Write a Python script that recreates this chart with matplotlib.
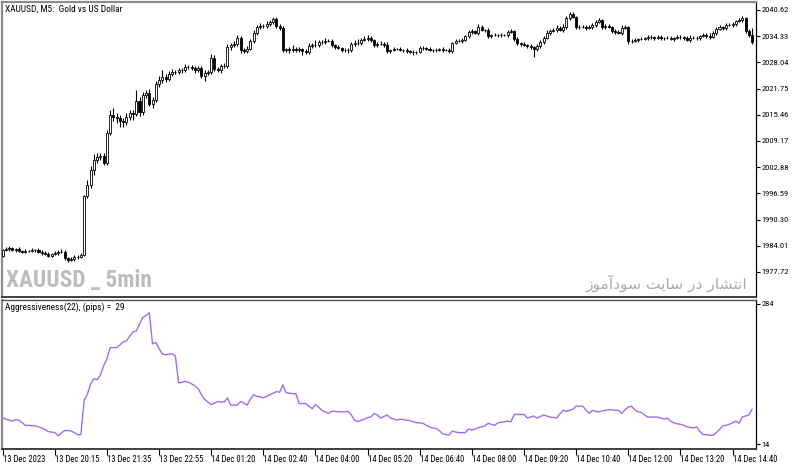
import os
import numpy as np
import matplotlib
matplotlib.use("Agg")
import matplotlib.pyplot as plt
from matplotlib import font_manager
from matplotlib.font_manager import FontProperties

# ---------------- data ----------------
first_open = 1981.6
closes = [
    1983.0, 1983.2, 1983.4, 1983.0, 1983.2, 1982.7, 1982.6, 1982.8, 1982.8, 1983.0,
    1983.0, 1982.6, 1982.3, 1982.0, 1981.6, 1982.0, 1982.3, 1982.5, 1982.6, 1981.1,
    1980.6, 1980.8, 1981.3, 1981.4, 1981.8, 1996.0, 1998.6, 2002.2, 2004.6, 2005.3,
    2005.6, 2003.9, 2011.1, 2015.4, 2014.9, 2014.7, 2014.0, 2013.7, 2014.9, 2015.9,
    2015.7, 2018.8, 2016.1, 2020.2, 2020.7, 2018.1, 2019.0, 2022.9, 2023.8, 2024.5,
    2024.1, 2025.3, 2025.7, 2025.7, 2026.2, 2026.2, 2026.9, 2026.9, 2026.7, 2026.2,
    2026.7, 2024.8, 2025.5, 2025.7, 2029.1, 2026.5, 2026.2, 2027.2, 2027.2, 2031.7,
    2032.2, 2032.5, 2033.9, 2031.0, 2030.8, 2031.3, 2033.2, 2035.1, 2036.5, 2036.8,
    2036.8, 2037.3, 2037.7, 2038.5, 2036.8, 2036.3, 2031.0, 2031.3, 2031.0, 2031.3,
    2031.0, 2031.3, 2030.8, 2030.5, 2032.0, 2032.2, 2032.2, 2032.9, 2032.9, 2033.2,
    2033.2, 2032.2, 2031.7, 2031.5, 2031.0, 2031.0, 2031.0, 2032.5, 2032.7, 2032.7,
    2033.4, 2033.7, 2033.9, 2033.4, 2032.2, 2032.5, 2032.5, 2032.2, 2030.8, 2031.0,
    2031.3, 2031.3, 2031.0, 2031.0, 2030.8, 2030.5, 2030.5, 2030.5, 2031.5, 2031.5,
    2031.3, 2031.0, 2031.0, 2031.0, 2031.3, 2031.0, 2031.0, 2030.8, 2032.7, 2033.2,
    2033.2, 2033.4, 2034.4, 2035.3, 2035.6, 2035.1, 2036.5, 2035.8, 2035.8, 2034.4,
    2034.6, 2034.6, 2034.6, 2034.6, 2034.6, 2035.3, 2035.6, 2033.7, 2032.7, 2032.5,
    2032.2, 2032.0, 2031.7, 2031.3, 2032.0, 2032.9, 2033.9, 2035.1, 2035.6, 2035.8,
    2036.3, 2035.8, 2036.5, 2038.7, 2039.7, 2038.9, 2036.5, 2036.5, 2036.5, 2036.3,
    2036.5, 2037.0, 2037.7, 2038.2, 2036.5, 2036.8, 2036.5, 2035.6, 2035.3, 2035.1,
    2036.3, 2036.5, 2033.2, 2033.2, 2033.4, 2033.7, 2033.7, 2033.9, 2034.1, 2034.1,
    2033.9, 2034.1, 2033.9, 2033.9, 2033.9, 2033.7, 2033.9, 2034.1, 2034.1, 2033.9,
    2033.4, 2033.9, 2033.9, 2033.9, 2034.4, 2034.6, 2034.4, 2034.1, 2035.1, 2036.1,
    2036.5, 2036.3, 2037.0, 2037.0, 2037.3, 2038.0, 2038.2, 2038.7, 2035.6, 2034.6,
    2032.9,
]
wick_hi = [
    0.3, 0.4, 0.5, 0.4, 0.3, 0.4, 0.3, 0.5, 0.3, 0.4,
    0.3, 0.4, 0.3, 0.5, 0.4, 0.3, 0.5, 0.4, 0.6, 0.3,
    0.3, 0.4, 0.5, 0.4, 0.5, 0.3, 1.2, 0.9, 1.4, 1.1,
    0.8, 0.6, 0.7, 1.3, 1.7, 0.9, 0.8, 0.6, 1.0, 0.7,
    0.8, 2.6, 1.0, 0.8, 0.7, 0.9, 0.8, 0.6, 0.9, 1.6,
    0.7, 0.6, 0.8, 0.5, 0.6, 0.4, 0.7, 0.5, 0.6, 0.4,
    0.5, 0.4, 0.6, 0.5, 0.9, 0.7, 0.5, 0.4, 0.6, 0.7,
    0.5, 0.7, 0.6, 0.5, 0.4, 0.6, 0.5, 0.7, 0.5, 0.6,
    0.4, 0.6, 0.5, 0.5, 0.4, 0.5, 0.4, 0.3, 0.5, 0.9,
    0.4, 0.5, 0.3, 0.4, 0.6, 0.5, 1.2, 0.4, 0.5, 0.6,
    0.4, 0.5, 0.3, 0.4, 0.3, 0.4, 0.5, 0.4, 0.6, 0.9,
    0.5, 0.7, 0.6, 0.4, 0.3, 0.5, 0.6, 0.4, 0.8, 0.3,
    0.4, 0.3, 0.5, 0.3, 0.4, 0.3, 0.4, 0.3, 0.5, 0.4,
    0.3, 0.4, 0.3, 0.5, 0.3, 0.4, 0.3, 0.4, 0.3, 0.5,
    0.4, 0.6, 0.3, 0.5, 0.4, 0.3, 0.8, 0.4, 0.3, 0.5,
    0.3, 0.4, 0.3, 0.5, 0.3, 0.4, 0.5, 0.3, 0.4, 0.3,
    0.4, 0.3, 0.5, 0.3, 0.4, 0.6, 0.5, 0.8, 0.4, 0.5,
    0.6, 0.4, 0.7, 0.5, 0.4, 0.5, 0.3, 0.6, 0.5, 0.4,
    0.5, 0.4, 0.6, 0.5, 0.3, 0.5, 0.4, 0.3, 0.5, 0.4,
    0.6, 0.5, 0.3, 0.4, 0.5, 0.3, 0.4, 0.3, 0.5, 0.4,
    0.3, 0.5, 0.4, 0.3, 0.5, 0.4, 0.3, 0.5, 0.4, 0.3,
    0.4, 0.6, 0.5, 0.4, 0.3, 0.5, 0.4, 0.6, 0.5, 0.4,
    0.5, 0.3, 0.6, 0.4, 0.5, 0.3, 0.6, 0.4, 0.3, 0.4,
    1.7,
]
wick_lo = [
    0.3, 0.3, 0.4, 0.3, 0.4, 0.3, 0.4, 0.3, 0.3, 0.4,
    0.4, 0.3, 0.4, 0.3, 0.3, 0.4, 0.3, 0.4, 0.3, 0.4,
    0.5, 0.3, 0.4, 0.4, 0.3, 0.3, 0.6, 0.8, 1.2, 0.7,
    0.6, 0.5, 0.4, 0.6, 1.0, 1.3, 1.5, 1.2, 0.8, 0.7,
    1.5, 0.6, 0.9, 0.7, 0.8, 0.6, 0.9, 0.5, 0.7, 0.6,
    0.8, 0.5, 0.6, 0.4, 0.5, 0.6, 0.4, 0.5, 0.4, 0.6,
    0.4, 0.6, 1.2, 0.5, 0.4, 0.6, 0.5, 0.6, 0.4, 0.5,
    0.6, 0.4, 0.5, 0.7, 0.6, 0.5, 0.4, 0.5, 0.6, 0.4,
    0.5, 0.4, 0.6, 0.5, 0.4, 0.6, 0.5, 0.4, 0.6, 0.5,
    0.4, 0.5, 0.9, 0.4, 0.5, 0.6, 0.4, 0.5, 0.4, 0.5,
    0.3, 0.5, 0.4, 0.3, 0.5, 0.4, 0.6, 0.4, 0.5, 0.4,
    0.4, 0.3, 0.5, 0.4, 0.5, 0.4, 0.3, 0.5, 0.4, 0.6,
    0.3, 0.4, 0.3, 0.5, 0.4, 0.3, 0.6, 0.4, 0.3, 0.4,
    0.4, 0.3, 0.5, 0.4, 0.3, 0.4, 0.3, 0.5, 0.4, 0.3,
    0.3, 0.4, 0.3, 0.5, 0.4, 0.3, 0.4, 0.3, 0.4, 0.5,
    0.6, 0.3, 0.4, 0.5, 0.3, 0.4, 0.3, 0.5, 0.4, 0.6,
    0.3, 0.5, 0.4, 2.0, 0.6, 0.4, 0.5, 0.3, 0.4, 0.3,
    0.4, 0.3, 0.5, 0.4, 0.5, 0.3, 0.4, 0.5, 0.3, 0.4,
    0.3, 0.5, 0.4, 0.3, 0.4, 0.5, 0.3, 0.4, 0.5, 0.3,
    0.4, 0.3, 0.7, 0.4, 0.3, 0.5, 0.4, 0.3, 0.4, 0.5,
    0.4, 0.3, 0.5, 0.4, 0.3, 0.4, 0.5, 0.3, 0.4, 0.5,
    0.3, 0.4, 0.3, 0.5, 0.4, 0.3, 0.4, 0.5, 0.3, 0.4,
    0.3, 0.5, 0.4, 0.3, 0.4, 0.5, 0.3, 0.4, 0.5, 0.4,
    0.4,
]
aggressiveness = [
    65, 62, 60, 58, 61, 60, 55, 50, 50, 49,
    49, 47, 45, 42, 38, 37, 36, 30, 35, 40,
    40, 39, 36, 32, 32, 98, 110, 130, 140, 138,
    147, 165, 178, 200, 200, 200, 205, 211, 213, 222,
    230, 232, 245, 258, 262, 267, 207, 210, 198, 188,
    186, 187, 188, 184, 132, 133, 135, 133, 130, 126,
    121, 109, 100, 95, 90, 93, 96, 95, 95, 103,
    89, 89, 89, 96, 93, 89, 100, 109, 106, 105,
    103, 106, 109, 112, 115, 114, 128, 113, 112, 111,
    111, 92, 92, 92, 87, 82, 90, 85, 79, 76,
    73, 77, 77, 76, 76, 76, 77, 70, 60, 57,
    60, 62, 65, 66, 73, 70, 64, 67, 70, 64,
    62, 60, 62, 61, 60, 59, 57, 55, 55, 54,
    50, 47, 45, 44, 40, 34, 32, 31, 39, 37,
    36, 36, 36, 43, 41, 43, 46, 47, 49, 54,
    52, 50, 55, 56, 57, 58, 57, 71, 71, 71,
    71, 64, 66, 68, 64, 67, 70, 68, 66, 65,
    64, 72, 79, 77, 79, 81, 87, 87, 87, 80,
    73, 79, 77, 76, 78, 79, 80, 80, 79, 79,
    73, 80, 85, 87, 80, 76, 75, 70, 66, 66,
    66, 66, 64, 62, 64, 58, 55, 53, 52, 50,
    47, 46, 45, 47, 38, 32, 32, 31, 31, 36,
    42, 49, 50, 52, 55, 58, 54, 66, 68, 70,
    81,
]
time_labels = ["13 Dec 2023", "13 Dec 20:15", "13 Dec 21:35", "13 Dec 22:55",
               "14 Dec 01:20", "14 Dec 02:40", "14 Dec 04:00", "14 Dec 05:20",
               "14 Dec 06:40", "14 Dec 08:00", "14 Dec 09:20", "14 Dec 10:40",
               "14 Dec 12:00", "14 Dec 13:20", "14 Dec 14:40"]
bars_per_label = 16
price_ticks = [1977.72, 1984.01, 1990.30, 1996.59, 2002.88, 2009.17,
               2015.46, 2021.75, 2028.04, 2034.33, 2040.62]
aggr_ticks = [14, 284]
title_text = "XAUUSD, M5:  Gold vs US Dollar"
ind_text = "Aggressiveness(22), (pips) =  29"
wm_left = "XAUUSD _ 5min"
wm_right = "انتشار در سایت سودآموز"

# ---------------- simple Persian shaping for display ----------------
FORMS = {  # iso, fin, ini, med
    "ا": ("\uFE8D", "\uFE8E", None, None),
    "آ": ("\uFE81", "\uFE82", None, None),
    "ر": ("\uFEAD", "\uFEAE", None, None),
    "د": ("\uFEA9", "\uFEAA", None, None),
    "ز": ("\uFEAF", "\uFEB0", None, None),
    "و": ("\uFEED", "\uFEEE", None, None),
    "ن": ("\uFEE5", "\uFEE6", "\uFEE7", "\uFEE8"),
    "ت": ("\uFE95", "\uFE96", "\uFE97", "\uFE98"),
    "ش": ("\uFEB5", "\uFEB6", "\uFEB7", "\uFEB8"),
    "س": ("\uFEB1", "\uFEB2", "\uFEB3", "\uFEB4"),
    "م": ("\uFEE1", "\uFEE2", "\uFEE3", "\uFEE4"),
    "ی": ("\uFEEF", "\uFEF0", "\uFEF3", "\uFEF4"),
}


def shape_rtl(text):
    out = []
    for word in text.split(" "):
        chars = list(word)
        res = []
        for i, ch in enumerate(chars):
            f = FORMS.get(ch)
            if f is None:
                res.append(ch)
                continue
            prev_joins = i > 0 and chars[i - 1] in FORMS and FORMS[chars[i - 1]][2] is not None
            next_joins = i < len(chars) - 1 and f[2] is not None and chars[i + 1] in FORMS
            if prev_joins and next_joins:
                res.append(f[3])
            elif next_joins:
                res.append(f[2])
            elif prev_joins:
                res.append(f[1])
            else:
                res.append(f[0])
        out.append("".join(res))
    return " ".join(out)[::-1]


# ---------------- font picking (narrow fonts if installed) ----------------
def pick_font(bold):
    best, best_score = None, None
    for f in font_manager.fontManager.ttflist:
        key = (f.name + " " + os.path.basename(f.fname)).lower()
        st = str(f.stretch).lower()
        narrowish = ("narrow" in key or "condensed" in key or
                     st in ("condensed", "semi-condensed", "extra-condensed"))
        if not narrowish or "mono" in key or "serif" in key or "italic" in key \
                or "oblique" in key or str(f.style) != "normal":
            continue
        w = f.weight if isinstance(f.weight, int) else (700 if "bold" in str(f.weight) else 400)
        fam_rank = 5
        for r, k in enumerate(["liberation sans narrow", "roboto condensed", "dejavu",
                               "noto sans", "open sans", "lato", "inter"]):
            if k in key:
                fam_rank = r
                break
        wrong_w = abs(w - (700 if bold else 400)) / 100.0
        score = wrong_w * 10 + fam_rank
        if best_score is None or score < best_score:
            best, best_score = f, score
    if best is None:
        return FontProperties(family="Liberation Sans", weight="bold" if bold else "normal")
    return FontProperties(fname=best.fname)


fp_small = pick_font(False)
fp_bold = pick_font(True)

# ---------------- figure ----------------
W, H = 800, 466
fig = plt.figure(figsize=(W / 100, H / 100), dpi=100)
fig.patch.set_facecolor("white")
renderer = fig.canvas.get_renderer()


def fit_size(text, fp, target_px, max_size):
    fp = fp.copy()
    fp.set_size(10)
    t = fig.text(0, 0, text, fontproperties=fp)
    w = t.get_window_extent(renderer).width
    t.remove()
    return min(max_size, 10 * target_px / w)


def sized(fp, size):
    q = fp.copy()
    q.set_size(size)
    return q


def px_axes(left, top, right, bottom):
    return fig.add_axes([left / W, 1 - bottom / H, (right - left) / W, (bottom - top) / H])


ax = px_axes(2, 2, 756, 297)
ax2 = px_axes(2, 300, 756, 449)

n = len(closes)
x = np.arange(n)
c = np.array(closes)
o = np.array([first_open] + closes[:-1])
hi = np.maximum(o, c) + np.array(wick_hi)
lo = np.minimum(o, c) - np.array(wick_lo)
body_lo = np.minimum(o, c)
body_h = np.maximum(np.abs(c - o), 0.06)
up = c >= o

ax.vlines(x, lo, hi, color="black", lw=0.8, zorder=2)
ax.bar(x[up], body_h[up], bottom=body_lo[up], width=0.62, color="white",
       edgecolor="black", linewidth=0.6, zorder=3)
ax.bar(x[~up], body_h[~up], bottom=body_lo[~up], width=0.62, color="black",
       edgecolor="black", linewidth=0.6, zorder=3)

xlim = (-0.2, 231.2)
ax.set_xlim(*xlim)
ax.set_ylim(1971.71, 2042.54)
ax.yaxis.tick_right()
ax.set_yticks(price_ticks)
ax.set_yticklabels([f"{v:.2f}" for v in price_ticks])
ax.tick_params(axis="y", direction="out", length=3, width=0.8, pad=1, colors="black")
ax.set_xticks([])

ax2.plot(x, aggressiveness, color="#9e6cf2", lw=1.0)
ax2.set_xlim(*xlim)
ax2.set_ylim(4.4, 291.7)
ax2.yaxis.tick_right()
ax2.set_yticks(aggr_ticks)
ax2.set_yticklabels([str(v) for v in aggr_ticks])
ax2.tick_params(axis="y", direction="out", length=3, width=0.8, pad=1)
ax2.set_xticks(np.arange(len(time_labels)) * bars_per_label)
ax2.set_xticklabels(time_labels)
ax2.tick_params(axis="x", direction="out", length=4, width=0.8, pad=0.5)

# small text sizes fitted to the reference's pixel widths
s_tick = fit_size("13 Dec 20:15", fp_small, 44, 7.0)
s_price = fit_size("2040.62", fp_small, 27, 7.0)
s_title = fit_size(title_text, fp_small, 117, 7.0)
fp_tick = sized(fp_small, s_tick)
fp_price = sized(fp_small, s_price)
fp_title = sized(fp_small, s_title)

for lab in ax2.get_xticklabels():
    lab.set_ha("left")
    lab.set_fontproperties(fp_tick)
for lab in ax.get_yticklabels() + ax2.get_yticklabels():
    lab.set_fontproperties(fp_price)

for a in (ax, ax2):
    a.set_facecolor("white")
    a.spines["left"].set_color("#8c8c8c")
    a.spines["left"].set_linewidth(1.6)
    a.spines["right"].set_color("black")
    a.spines["right"].set_linewidth(0.9)
    a.spines["bottom"].set_color("#303030")
    a.spines["bottom"].set_linewidth(1.3)
ax.spines["top"].set_color("#8c8c8c")
ax.spines["top"].set_linewidth(1.6)
ax2.spines["top"].set_color("#505050")
ax2.spines["top"].set_linewidth(1.0)

ax.text(3 / 754, 1 - 3 / 295, title_text, transform=ax.transAxes, ha="left", va="top",
        fontproperties=fp_title, color="black")
ax2.text(3 / 754, 1 - 2 / 149, ind_text, transform=ax2.transAxes, ha="left", va="top",
         fontproperties=fp_title, color="black")

s_wm = fit_size(wm_left, fp_bold, 145, 21)
ax.text(4 / 754, 5 / 295, wm_left, transform=ax.transAxes, ha="left", va="bottom",
        fontproperties=sized(fp_bold, s_wm), color="#bdbdbd")
fp_fa = FontProperties(family="DejaVu Sans")
shaped = shape_rtl(wm_right)
s_fa = fit_size(shaped, fp_fa, 162, 16)
ax.text(745 / 754, 5 / 295, shaped, transform=ax.transAxes, ha="right",
        va="bottom", fontproperties=sized(fp_fa, s_fa), color="#ababab")

fig.savefig("out.png", dpi=100, facecolor="white")
